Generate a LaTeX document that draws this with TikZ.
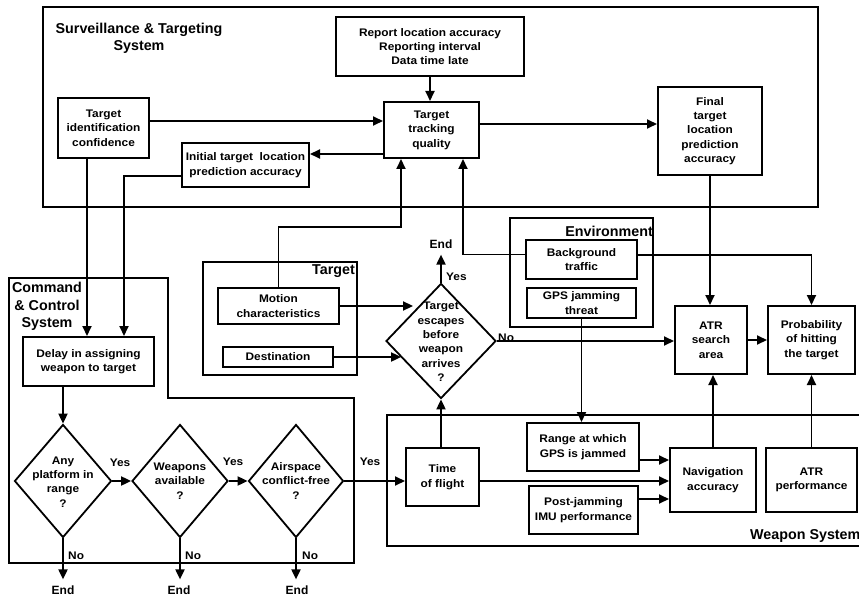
\documentclass[tikz,border=0pt]{standalone}
\usepackage{fontspec}
\setmainfont{Liberation Sans}
\newfontfamily\widesans{Liberation Sans}[FakeStretch=1.08]
\usetikzlibrary{arrows.meta,shapes.geometric}
\begin{document}
\begin{tikzpicture}[x=1pt,y=-1pt,
  box/.style={draw,line width=2pt,align=center,inner sep=0pt,
    font=\widesans\bfseries\fontsize{11}{14.4}\selectfont},
  txt/.style={align=center,inner sep=0pt,
    font=\widesans\bfseries\fontsize{11}{14.4}\selectfont},
  frame/.style={draw,line width=1.1pt},
  heading/.style={inner sep=0pt,font=\bfseries\fontsize{14.3}{17}\selectfont},
  answer/.style={inner sep=0pt,font=\widesans\bfseries\fontsize{11}{13}\selectfont},
  endmark/.style={inner xsep=0pt,inner ysep=6pt,font=\bfseries\fontsize{12}{14}\selectfont},
  decision/.style={diamond,draw,line width=1.8pt,inner sep=0pt},
  arr/.style={-{Triangle[length=10pt,width=9pt]},line width=1.9pt},
]
\useasboundingbox (0,0) rectangle (859,596);

% ---- system frames ----
\draw[frame] (43,7) rectangle (818,207);
\draw[frame] (510,218) rectangle (653,327);
\draw[frame] (203,262) rectangle (357,375);
\draw[frame] (9,278) -- (168,278) -- (168,398) -- (354,398) -- (354,563) -- (9,563) -- cycle;
\draw[frame] (859,415) -- (387,415) -- (387,546) -- (859,546);

\node[heading,align=center] (hsurv) at (139,38) {Surveillance \& Targeting\\System};
\node[heading,align=center,font=\bfseries\fontsize{14.3}{17.5}\selectfont] (hcc) at (47,306.5) {Command\\\& Control\\System};
\node[heading,anchor=east] (htgt) at (355,271) {Target};
\node[heading,anchor=east] (henv) at (653,231) {Environment};
\node[heading,anchor=west] (hweap) at (750,536) {Weapon System};

% ---- surveillance & targeting ----
\node[box,minimum width=188,minimum height=59] (report) at (430,46.5)
  {Report location accuracy\\Reporting interval\\Data time late};
\node[box,minimum width=95,minimum height=56] (ttq) at (431.5,130)
  {Target\\tracking\\quality};
\node[box,minimum width=91,minimum height=60] (tic) at (103.5,128)
  {Target\\identification\\confidence};
\node[box,minimum width=127,minimum height=44] (itlpa) at (245.5,165)
  {Initial target\ \ location\\prediction accuracy};
\node[box,minimum width=104,minimum height=88] (final) at (710,131)
  {Final\\target\\location\\prediction\\accuracy};

% ---- environment ----
\node[box,minimum width=111,minimum height=39] (bg) at (581.5,259.5) {Background\\traffic};
\node[box,minimum width=109,minimum height=30] (gps) at (581.5,303) {GPS jamming\\threat};

% ---- target ----
\node[box,minimum width=121,minimum height=36] (motion) at (278.5,306) {Motion\\characteristics};
\node[box,minimum width=110,minimum height=20] (dest) at (278,357) {Destination};

% ---- outcome ----
\node[box,minimum width=72,minimum height=68] (atr) at (711,340) {ATR\\search\\area};
\node[box,minimum width=87,minimum height=68] (prob) at (811.5,340) {Probability\\of hitting\\the target};

% ---- weapon system ----
\node[box,minimum width=73,minimum height=58] (tof) at (442.5,477) {Time\\of flight};
\node[box,minimum width=112,minimum height=48] (range) at (583,447) {Range at which\\GPS is jammed};
\node[box,minimum width=109,minimum height=48] (post) at (583.5,510) {Post-jamming\\IMU performance};
\node[box,minimum width=86,minimum height=64] (nav) at (713,480) {Navigation\\accuracy};
\node[box,minimum width=91,minimum height=64] (atrp) at (811.5,480) {ATR\\performance};

% ---- command & control ----
\node[box,minimum width=131,minimum height=49] (delay) at (88.5,361.5) {Delay in assigning\\weapon to target};

\node[decision,minimum width=97,minimum height=113] (any) at (63,481) {};
\node[txt] (anyT) at (63,482) {Any\\platform in\\range\\?};
\node[decision,minimum width=96,minimum height=113] (wpn) at (180,481) {};
\node[txt] (wpnT) at (180,481) {Weapons\\available\\?};
\node[decision,minimum width=95,minimum height=113] (air) at (296,481) {};
\node[txt] (airT) at (296,481) {Airspace\\conflict-free\\?};
\node[decision,minimum width=110,minimum height=115] (esc) at (441,341) {};
\node[txt] (escT) at (441,342) {Target\\escapes\\before\\weapon\\arrives\\?};

\node[endmark] (end1) at (63,590) {End};
\node[endmark] (end2) at (179,590) {End};
\node[endmark] (end3) at (297,590) {End};
\node[endmark] (endT) at (441,244) {End};

\node[answer] (y1) at (120,463) {Yes};
\node[answer] (y2) at (233,462) {Yes};
\node[answer] (y3) at (370,462) {Yes};
\node[answer,anchor=west] (n1) at (68,556) {No};
\node[answer,anchor=west] (n2) at (185,556) {No};
\node[answer,anchor=west] (n3) at (302,556) {No};
\node[answer,anchor=west] (yT) at (446,277) {Yes};
\node[answer,anchor=base west] (nT) at (498,341) {No};

% ---- connectors ----
\draw[arr] ([yshift=7pt]tic.east) -- ([yshift=7pt]tic.east -| ttq.west);
\draw[arr] ([yshift=-24pt]ttq.west) -- ([yshift=-24pt]ttq.west -| itlpa.east);
\draw[arr] (report.south) -- (report.south |- ttq.north);
\draw[arr] ([yshift=6pt]ttq.east) -- ([yshift=6pt]ttq.east -| final.west);
\draw[arr] (motion.north) -- ++(0,-60) -| ([xshift=-30.5pt]ttq.south);
\draw[arr] ([yshift=5pt]bg.west) -| ([xshift=31.5pt]ttq.south);
\draw[arr] ([xshift=-16.5pt]tic.south) -- ([xshift=-16.5pt]tic.south |- delay.north);
\draw[arr] ([yshift=-11pt]itlpa.west) -| ([xshift=35.5pt]delay.north);
\draw[arr] ([xshift=-25.5pt]delay.south) -- ([xshift=-25.5pt]delay.south |- any.north);

\draw[arr] (any.east) -- (wpn.west);
\draw[arr] (wpn.east) -- (air.west);
\draw[arr] (air.east) -- (air.east -| tof.west);
\draw[arr] (any.south) -- (end1.north);
\draw[arr] (wpn.south) -- (wpn.south |- end2.north);
\draw[arr] (air.south) -- (air.south |- end3.north);

\draw[arr] (esc.north) -- (endT.south);
\draw[arr] (esc.east) -- (esc.east -| atr.west);
\draw[arr] (motion.east) -- (motion.east -| esc.north west);
\draw[arr] (dest.east) -- ([xshift=16pt]dest.east -| esc.west);
\draw[arr] (esc.south |- tof.north) -- (esc.south);

\draw[arr] (final.south) -- (final.south |- atr.north);
\draw[arr] ([yshift=4.5pt]bg.east) -| (prob.north);
\draw[arr] (atr.east) -- (prob.west);
\draw[arr] (gps.south) -- (gps.south |- range.north);
\draw[arr] ([yshift=-13pt]range.east) -- ([yshift=-13pt]range.east -| nav.west);
\draw[arr] ([yshift=-4pt]tof.east) -- ([yshift=-4pt]tof.east -| nav.west);
\draw[arr] ([yshift=11pt]post.east) -- ([yshift=11pt]post.east -| nav.west);
\draw[arr] (nav.north) -- (nav.north |- atr.south);
\draw[arr] (atrp.north) -- (atrp.north |- prob.south);
\end{tikzpicture}
\end{document}
